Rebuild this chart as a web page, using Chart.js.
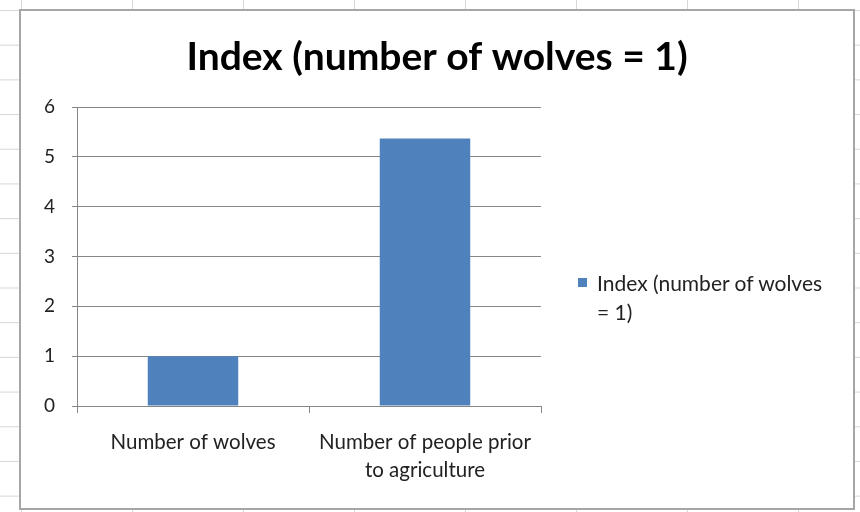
<!DOCTYPE html>
<html>
<head>
<meta charset="utf-8">
<script src="https://cdn.jsdelivr.net/npm/chart.js@4.4.1/dist/chart.umd.min.js"></script>
<style>
  html, body { margin: 0; padding: 0; }
  body {
    width: 860px; height: 512px; overflow: hidden; position: relative;
    background-color: #fff;
    background-image:
      linear-gradient(to right, #d6d6dc 1px, transparent 1px),
      linear-gradient(to bottom, #d6d6dc 1px, transparent 1px);
    background-size: 111px 34.7px;
    background-position: 21px 10px;
  }
  #box {
    position: absolute; left: 19px; top: 9px; width: 836px; height: 501px;
    box-sizing: border-box; border: 2px solid #a6a6a6; background: #fff;
  }
  #box canvas { display: block; }
  #legend {
    position: absolute; left: 578px; top: 268px;
    font-family: Lato, sans-serif; font-size: 21px; line-height: 29px; color: #222;
  }
  #legend .sw {
    position: absolute; left: 0; top: 10px; width: 9px; height: 9px;
  }
  #legend .txt { margin-left: 19px; white-space: nowrap; }
</style>
</head>
<body>
<div id="box"><canvas id="chart" width="832" height="497"></canvas></div>
<div id="legend"></div>
<script>
const categories = ['Number of wolves', ['Number of people prior', 'to agriculture']];
const indexValues = [1, 5.37];
const seriesName = 'Index (number of wolves = 1)';
const legendLines = ['Index (number of wolves', '= 1)'];
const yTicks = [0, 1, 2, 3, 4, 5, 6];

const barColor = '#4f81bd';
const axisColor = '#868686';

// keep the title centred on the whole box, not only on the plot column
const wideTitle = {
  id: 'wideTitle',
  afterLayout(chart) {
    const t = chart.titleBlock;
    if (t) { t.left = 0; t.right = chart.width; t.width = chart.width; }
  }
};

const ctx = document.getElementById('chart').getContext('2d');

const chart = new Chart(ctx, {
  type: 'bar',
  data: {
    labels: categories,
    datasets: [{
      label: seriesName,
      data: indexValues,
      backgroundColor: barColor,
      borderWidth: 0,
      categoryPercentage: 1,
      barPercentage: 0.39
    }]
  },
  options: {
    responsive: false,
    animation: false,
    layout: { padding: { left: 0, right: 312, top: 0, bottom: 0 } },
    plugins: {
      legend: { display: false },
      tooltip: { enabled: false },
      title: {
        display: true,
        text: seriesName,
        color: '#000',
        font: { family: 'Lato', size: 39, weight: 'bold', lineHeight: 1.2 },
        padding: { top: 22.6, bottom: 26.6 }
      }
    },
    scales: {
      x: {
        offset: true,
        grid: { offset: true, drawOnChartArea: false, drawTicks: true, tickLength: 7, color: axisColor },
        border: { display: true, color: axisColor },
        ticks: { color: '#222', padding: 15, font: { family: 'Lato', size: 20.5, lineHeight: '28px' }, maxRotation: 0 },
        afterFit: s => { s.height = 102; }
      },
      y: {
        min: 0,
        max: 6,
        afterBuildTicks: s => { s.ticks = yTicks.map(v => ({ value: v })); },
        grid: { color: axisColor, tickLength: 5 },
        border: { display: true, color: axisColor },
        ticks: { color: '#222', padding: 17, font: { family: 'Lato', size: 19 } },
        afterFit: s => { s.width = 56; }
      }
    }
  },
  plugins: [wideTitle]
});

// legend drawn beside the chart, wrapped like the original
const lg = document.getElementById('legend');
lg.innerHTML = '<span class="sw" style="background:' + barColor + '"></span>' +
  '<div class="txt">' + legendLines.join('<br>') + '</div>';
</script>
</body>
</html>
